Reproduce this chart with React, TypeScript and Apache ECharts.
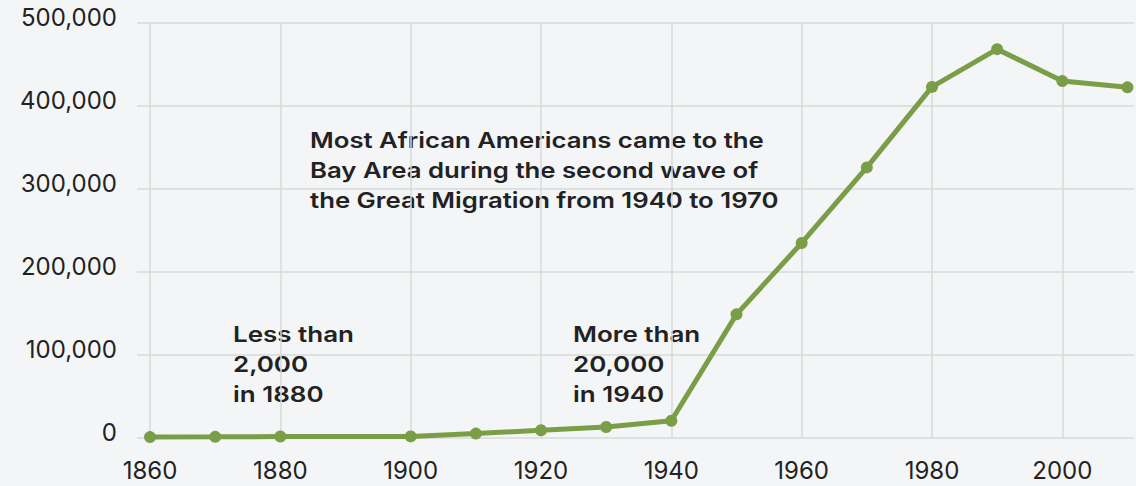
import React, { useEffect, useRef } from "react";
import * as echarts from "echarts";

const years = [1860, 1870, 1880, 1900, 1910, 1920, 1930, 1940, 1950, 1960, 1970, 1980, 1990, 2000, 2010];
const population = [1100, 1400, 1800, 1900, 5300, 9300, 13300, 20800, 149000, 235000, 326000, 423000, 468500, 430000, 422500];
const xTickYears = [1860, 1880, 1900, 1920, 1940, 1960, 1980, 2000];
const yTicks = [0, 100000, 200000, 300000, 400000, 500000];
const mainNote = "Most African Americans came to the\nBay Area during the second wave of\nthe Great Migration from 1940 to 1970";
const note1880 = "Less than\n2,000\nin 1880";
const note1940 = "More than\n20,000\nin 1940";

const FONT = "Inter, 'Noto Sans', sans-serif";
const GREEN = "#7a9e47";

export default function App() {
  const ref = useRef<HTMLDivElement>(null);
  useEffect(() => {
    if (!ref.current) return;
    const chart = echarts.init(ref.current, undefined, { renderer: "svg" });
    const noteStyle = {
      fontFamily: FONT,
      fontSize: 22,
      fontWeight: 600,
      fill: "#222",
      lineHeight: 30,
      textVerticalAlign: "top",
      verticalAlign: "top",
    };
    chart.setOption({
      animation: false,
      backgroundColor: "#f4f5f7",
      grid: { left: 137, right: 2, top: 23, bottom: 48, containLabel: false },
      xAxis: {
        type: "value",
        min: 1858,
        max: 2011,
        axisLine: { show: false },
        axisTick: { show: false },
        splitLine: { show: false },
        axisLabel: {
          customValues: xTickYears,
          formatter: (v: number) => String(v),
          fontFamily: FONT,
          fontSize: 24,
          color: "#222",
          margin: 20,
        },
      },
      yAxis: {
        type: "value",
        min: 0,
        max: 500000,
        interval: 100000,
        axisLine: { show: false },
        axisTick: { show: false },
        splitLine: { show: true, lineStyle: { color: "#d9d9d9", width: 1.5 } },
        axisLabel: {
          customValues: yTicks,
          formatter: (v: number) => v.toLocaleString("en-US"),
          fontFamily: FONT,
          fontSize: 24,
          color: "#222",
          margin: 20,
          verticalAlign: "bottom",
          lineHeight: 12,
        },
      },
      series: [
        {
          type: "line",
          data: years.map((y, i) => [y, population[i]]),
          lineStyle: { color: GREEN, width: 5 },
          itemStyle: { color: GREEN },
          symbol: "circle",
          symbolSize: 12,
          z: 3,
          markLine: {
            silent: true,
            symbol: "none",
            z: 1,
            label: { show: false },
            lineStyle: { color: "#d9d9d9", width: 1.5, type: "solid" },
            data: xTickYears.map((y) => ({ xAxis: y })),
          },
        },
      ],
      graphic: [
        { type: "text", x: 310, y: 125, scaleX: 1.17, style: { ...noteStyle, text: mainNote } },
        { type: "text", x: 233, y: 319, scaleX: 1.18, style: { ...noteStyle, text: note1880 } },
        { type: "text", x: 573, y: 319, scaleX: 1.18, style: { ...noteStyle, text: note1940 } },
      ],
    });
    return () => chart.dispose();
  }, []);
  return <div ref={ref} style={{ position: "fixed", left: 0, top: 0, width: 1136, height: 486 }} />;
}
